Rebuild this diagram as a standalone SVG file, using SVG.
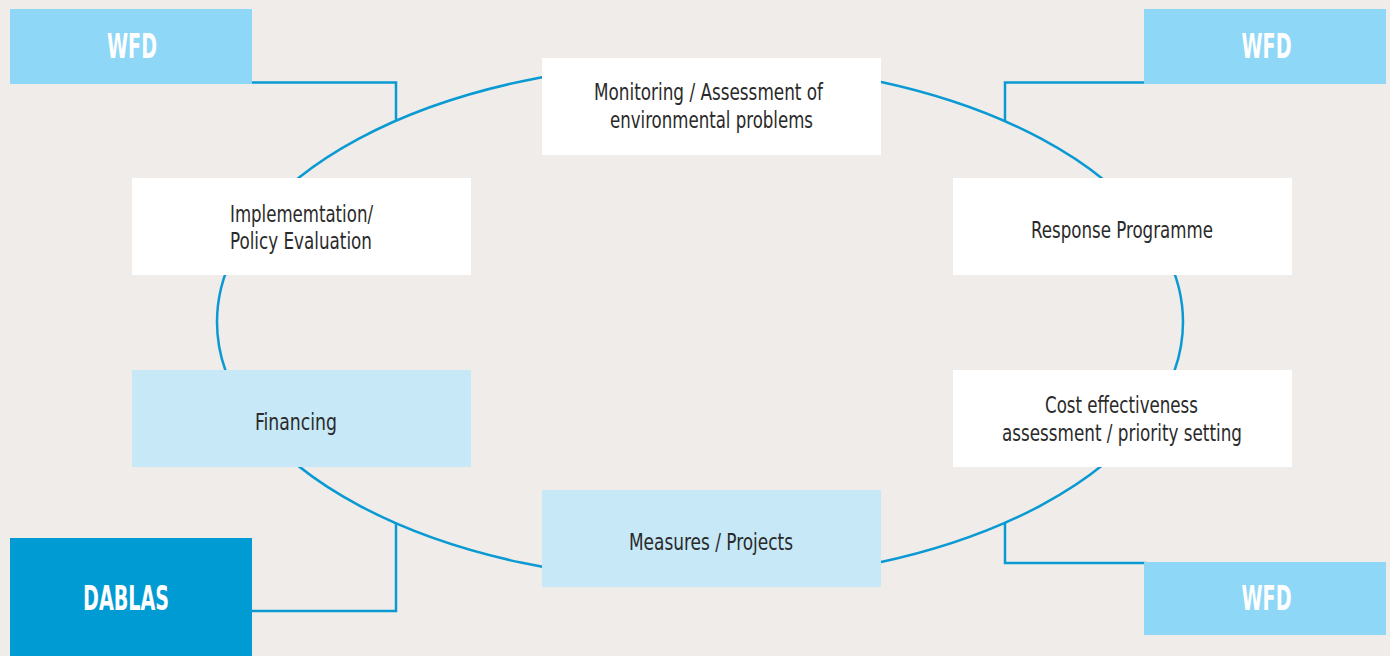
<svg xmlns="http://www.w3.org/2000/svg" width="1390" height="656" viewBox="0 0 1390 656">
<style>
.bg{fill:#f0ece9}
.line{fill:none;stroke:#0a9ad3;stroke-width:2.5}
.w{fill:#ffffff}
.lb{fill:#c6e8f7}
.wfd{fill:#8ed7f6}
.dab{fill:#009bd3}
.t{font-family:"DejaVu Sans Condensed","Liberation Sans Narrow","Liberation Sans",sans-serif;font-size:23.5px;fill:#2a2a2a;text-anchor:middle}
.h{font-family:"DejaVu Sans Condensed","Liberation Sans Narrow","Liberation Sans",sans-serif;font-size:33px;font-weight:bold;fill:#ffffff;text-anchor:middle}
</style>
<rect class="bg" x="0" y="0" width="1390" height="656"/>
<g id="connectors">
<ellipse class="line" cx="700" cy="322" rx="483" ry="259"/>
<polyline class="line" points="250,82.5 396,82.5 396,121"/>
<polyline class="line" points="1146,82.5 1005,82.5 1005,121"/>
<polyline class="line" points="252,611 396,611 396,523"/>
<polyline class="line" points="1146,563 1005,563 1005,523"/>
</g>
<g id="wfd-tl"><rect class="wfd" x="10" y="9" width="242" height="75"/><text class="h" x="132" y="58" textLength="50" lengthAdjust="spacingAndGlyphs">WFD</text></g>
<g id="wfd-tr"><rect class="wfd" x="1144" y="9" width="242" height="75"/><text class="h" x="1266.5" y="58" textLength="50" lengthAdjust="spacingAndGlyphs">WFD</text></g>
<g id="wfd-br"><rect class="wfd" x="1144" y="562" width="242" height="73"/><text class="h" x="1266.5" y="610" textLength="50" lengthAdjust="spacingAndGlyphs">WFD</text></g>
<g id="dablas"><rect class="dab" x="10" y="538" width="242" height="118"/><text class="h" x="126" y="610" textLength="86" lengthAdjust="spacingAndGlyphs">DABLAS</text></g>
<g id="monitoring"><rect class="w" x="542" y="58" width="339" height="97"/><text class="t" x="708.5" y="99.5" textLength="229" lengthAdjust="spacingAndGlyphs">Monitoring / Assessment of</text><text class="t" x="711.5" y="127.5" textLength="203" lengthAdjust="spacingAndGlyphs">environmental problems</text></g>
<g id="implementation"><rect class="w" x="132" y="178" width="339" height="97"/><text class="t" x="301.5" y="221.5" textLength="143" lengthAdjust="spacingAndGlyphs">Implememtation/</text><text class="t" x="301" y="248.5" textLength="142" lengthAdjust="spacingAndGlyphs">Policy Evaluation</text></g>
<g id="response"><rect class="w" x="953" y="178" width="339" height="97"/><text class="t" x="1122" y="237.5" textLength="182" lengthAdjust="spacingAndGlyphs">Response Programme</text></g>
<g id="financing"><rect class="lb" x="132" y="370" width="339" height="97"/><text class="t" x="296" y="429.5" textLength="82" lengthAdjust="spacingAndGlyphs">Financing</text></g>
<g id="cost"><rect class="w" x="953" y="370" width="339" height="97"/><text class="t" x="1121.5" y="412.5" textLength="153" lengthAdjust="spacingAndGlyphs">Cost effectiveness</text><text class="t" x="1122" y="440.5" textLength="240" lengthAdjust="spacingAndGlyphs">assessment / priority setting</text></g>
<g id="measures"><rect class="lb" x="542" y="490" width="339" height="97"/><text class="t" x="711" y="549.5" textLength="164" lengthAdjust="spacingAndGlyphs">Measures / Projects</text></g>
</svg>
